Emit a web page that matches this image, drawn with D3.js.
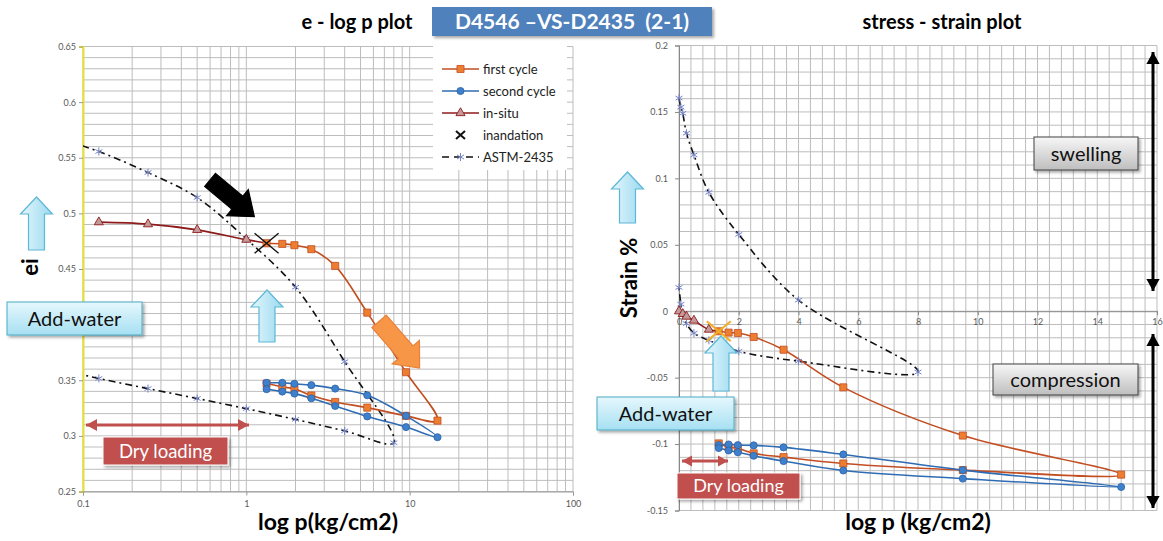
<!DOCTYPE html>
<html>
<head>
<meta charset="utf-8">
<script src="https://cdn.jsdelivr.net/npm/d3@7"></script>
<style>
  body { margin: 0; background: #fff; }
  svg { display: block; font-family: Lato, "Open Sans", sans-serif; }
</style>
</head>
<body>
<svg id="chart" width="1163" height="541"></svg>
<script>
// ---------- data ----------
// pressure steps (kg/cm2)
const pLoad = [1.33, 1.66, 1.97, 2.5, 3.5, 5.5, 9.5, 14.8];
const pUnload = [9.5, 5.5, 3.5, 2.5, 1.97, 1.66, 1.33];

// e - log p plot
const pInsitu = [0.125, 0.25, 0.5, 1];
const eInsitu = [0.4921, 0.4903, 0.4852, 0.4764];
const pInund = 1.33;
const eInund = 0.4732;
const eFirstLoad = [0.4732, 0.4726, 0.4714, 0.4678, 0.4528, 0.4108, 0.3572, 0.3137];
const eFirstUnload = [0.318, 0.3254, 0.3305, 0.3363, 0.3423, 0.344, 0.347];
const eSecondLoad = [0.3477, 0.3477, 0.3468, 0.3456, 0.3425, 0.3365, 0.318, 0.2988];
const eSecondUnload = [0.3079, 0.3175, 0.3269, 0.3338, 0.338, 0.3398, 0.342];
const pAstmLoad = [0.0625, 0.125, 0.25, 0.5, 1, 2, 4, 8];
const eAstmLoad = [0.57, 0.5556, 0.5367, 0.5142, 0.477, 0.4336, 0.3667, 0.2938];
const pAstmUnload = [4, 2, 1, 0.5, 0.25, 0.125, 0.0625];
const eAstmUnload = [0.3045, 0.3148, 0.3245, 0.3336, 0.3425, 0.3516, 0.362];

// stress - strain plot
const pInsituS = [0, 0.125, 0.25, 0.5, 1];
const sInsitu = [0, -0.002, -0.004, -0.007, -0.0138];
const sInund = -0.0151;
const sFirstLoad = [-0.0151, -0.0161, -0.0164, -0.0194, -0.029, -0.0573, -0.0936, -0.123];
const sFirstUnload = [-0.1196, -0.1146, -0.1098, -0.107, -0.1032, -0.1022, -0.0995];
const sSecondLoad = [-0.1008, -0.1003, -0.1008, -0.101, -0.1025, -0.1078, -0.1196, -0.1323];
const sSecondUnload = [-0.126, -0.1199, -0.1128, -0.1088, -0.1062, -0.1048, -0.103];
const pAstmLoadS = [0, 0.0625, 0.125, 0.25, 0.5, 1, 2, 4, 8];
const sAstmLoad = [0.1604, 0.1536, 0.149, 0.134, 0.1176, 0.0895, 0.0578, 0.0083, -0.0458];
const pAstmUnloadS = [4, 2, 1, 0.5, 0.25, 0.125, 0.0625, 0];
const sAstmUnload = [-0.0376, -0.0302, -0.0219, -0.0165, -0.0093, -0.0025, 0.0053, 0.0179];

// tick labels (0.4 is hidden behind the Add-water box in the original)
const eTicks = [0.25, 0.3, 0.35, 0.4, 0.45, 0.5, 0.55, 0.6, 0.65];
const eTicksHidden = [0.4];
const logTicks = [0.1, 1, 10, 100];
const sTicks = [-0.15, -0.1, -0.05, 0, 0.05, 0.1, 0.15, 0.2];
const xTicksS = [0, 2, 4, 6, 8, 10, 12, 14, 16];

const legendNames = ["first cycle", "second cycle", "in-situ", "inandation", "ASTM-2435"];

// ---------- colours ----------
const cFirst = "#C24E22", cFirstFill = "#ED7D31";
const cSecond = "#2F6CB3", cSecondFill = "#3F80CC";
const cInsitu = "#8E1B1B", cInsituFill = "#C39A9A";
const cAstm = "#7584C6";
const grid = "#bdbdbd";

const zip = (xs, ys) => xs.map((x, i) => [x, ys[i]]);

const svg = d3.select("#chart");
const defs = svg.append("defs");

// shadow + gradients for the callout boxes
const sh = defs.append("filter").attr("id", "shadow").attr("x", "-20%").attr("y", "-30%").attr("width", "150%").attr("height", "170%");
sh.append("feDropShadow").attr("dx", 2).attr("dy", 2).attr("stdDeviation", 1.6).attr("flood-color", "#000").attr("flood-opacity", 0.35);

function vGrad(id, c1, c2) {
  const g = defs.append("linearGradient").attr("id", id).attr("x1", 0).attr("y1", 0).attr("x2", 0).attr("y2", 1);
  g.append("stop").attr("offset", "0%").attr("stop-color", c1);
  g.append("stop").attr("offset", "100%").attr("stop-color", c2);
}
vGrad("gBlue", "#E6F7FD", "#A6E0F2");
vGrad("gGray", "#F7F7F7", "#BEBEBE");
vGrad("gArrow", "#E4F6FC", "#9ADAF0");

// ---------- helpers ----------
function blockArrow(g, x1, y1, x2, y2, shaft, headW, headL, fill, stroke) {
  const len = Math.hypot(x2 - x1, y2 - y1);
  const ang = Math.atan2(y2 - y1, x2 - x1) * 180 / Math.PI;
  const pts = [[0, -shaft / 2], [len - headL, -shaft / 2], [len - headL, -headW / 2], [len, 0],
               [len - headL, headW / 2], [len - headL, shaft / 2], [0, shaft / 2]];
  g.append("polygon")
    .attr("points", pts.map(p => p.join(",")).join(" "))
    .attr("transform", `translate(${x1},${y1}) rotate(${ang})`)
    .attr("fill", fill).attr("stroke", stroke).attr("stroke-width", 1.2);
}

function lineArrow(g, x1, y1, x2, y2, color, w, head) {
  g.append("line").attr("x1", x1).attr("y1", y1).attr("x2", x2).attr("y2", y2)
    .attr("stroke", color).attr("stroke-width", w);
  const ang = Math.atan2(y2 - y1, x2 - x1) * 180 / Math.PI;
  [[x2, y2, ang], [x1, y1, ang + 180]].forEach(([x, y, a]) => {
    g.append("polygon").attr("points", `0,0 ${-head},${-head * 0.55} ${-head},${head * 0.55}`)
      .attr("transform", `translate(${x},${y}) rotate(${a})`).attr("fill", color);
  });
}

function callout(g, x, y, w, h, text, fill, stroke, color, size) {
  g.append("rect").attr("x", x).attr("y", y).attr("width", w).attr("height", h)
    .attr("fill", fill).attr("stroke", stroke).attr("stroke-width", 1).attr("filter", "url(#shadow)");
  g.append("text").attr("x", x + w / 2).attr("y", y + h / 2 + size * 0.36)
    .attr("text-anchor", "middle").attr("font-size", size).attr("fill", color).text(text);
}

function bigX(g, x, y, color, w) {
  g.append("path").attr("d", `M${x - 12},${y - 10}L${x + 12},${y + 10}M${x - 12},${y + 10}L${x + 12},${y - 10}`)
    .attr("stroke", color).attr("stroke-width", w).attr("fill", "none");
}

function drawSeries(g, x, y, pts, color, width, dash) {
  g.append("path").datum(pts)
    .attr("d", d3.line().x(d => x(d[0])).y(d => y(d[1])).curve(d3.curveCatmullRom.alpha(0.5)))
    .attr("fill", "none").attr("stroke", color).attr("stroke-width", width)
    .attr("stroke-dasharray", dash || null);
}

function markers(g, x, y, pts, kind) {
  const sel = g.append("g").selectAll("path").data(pts).join("path")
    .attr("transform", d => `translate(${x(d[0])},${y(d[1])})`);
  if (kind === "square") sel.attr("d", d3.symbol(d3.symbolSquare, 50)()).attr("fill", cFirstFill).attr("stroke", cFirst).attr("stroke-width", 0.8);
  if (kind === "circle") sel.attr("d", d3.symbol(d3.symbolCircle, 40)()).attr("fill", cSecondFill).attr("stroke", "#2A62A6").attr("stroke-width", 0.8);
  if (kind === "triangle") sel.attr("d", d3.symbol(d3.symbolTriangle, 36)()).attr("fill", cInsituFill).attr("stroke", cInsitu).attr("stroke-width", 0.9);
  if (kind === "star") sel.attr("d", d3.symbol(d3.symbolAsterisk, 45)()).attr("fill", "none").attr("stroke", cAstm).attr("stroke-width", 1);
}

// ================= LEFT : e - log p =================
const xL = d3.scaleLog().domain([0.1, 100]).range([83, 573]);
const yL = d3.scaleLinear().domain([0.25, 0.65]).range([491.5, 46.5]);
const gL = svg.append("g");

defs.append("clipPath").attr("id", "clipL").append("rect")
  .attr("x", 83).attr("y", 46.5).attr("width", 490).attr("height", 445);

// grid
const hLinesL = d3.range(25, 66).map(v => v / 100);
gL.append("g").selectAll("line").data(hLinesL).join("line")
  .attr("x1", 83).attr("x2", 573).attr("y1", d => yL(d)).attr("y2", d => yL(d))
  .attr("stroke", grid).attr("stroke-width", 1);
const vLinesL = [];
[0.1, 1, 10].forEach(dec => d3.range(1, 10).forEach(k => vLinesL.push(dec * k)));
vLinesL.push(100);
gL.append("g").selectAll("line").data(vLinesL).join("line")
  .attr("x1", d => xL(d)).attr("x2", d => xL(d)).attr("y1", 46.5).attr("y2", 491.5)
  .attr("stroke", grid).attr("stroke-width", 1);

// axes
const axL = gL.append("g").attr("transform", "translate(83,0)")
  .call(d3.axisLeft(yL).tickValues(eTicks).tickSize(4)
    .tickFormat(d => eTicksHidden.includes(d) ? "" : String(+d.toFixed(2))));
axL.select(".domain").attr("stroke", "#E6E030").attr("stroke-width", 2);
axL.selectAll(".tick line").attr("stroke", "#999");
axL.selectAll("text").attr("font-size", 9).attr("fill", "#595959").attr("font-family", "Lato, sans-serif");

const axLx = gL.append("g").attr("transform", "translate(0,491.5)")
  .call(d3.axisBottom(xL).tickValues(logTicks).tickSize(4).tickFormat(d => String(d)));
axLx.select(".domain").attr("stroke", "#999");
axLx.selectAll(".tick line").attr("stroke", "#999");
axLx.selectAll("text").attr("font-size", 9).attr("fill", "#595959").attr("font-family", "Lato, sans-serif").attr("dy", "0.9em");

// series
const dL = gL.append("g").attr("clip-path", "url(#clipL)");
drawSeries(dL, xL, yL, zip(pAstmLoad, eAstmLoad).concat(zip(pAstmUnload, eAstmUnload)), "#111", 1.6, "7,4,2,4");
drawSeries(dL, xL, yL, zip(pInsitu, eInsitu).concat([[pInund, eInund]]), cInsitu, 1.6);
drawSeries(dL, xL, yL, zip(pLoad, eFirstLoad).concat(zip(pUnload, eFirstUnload)), cFirst, 1.6);
drawSeries(dL, xL, yL, zip(pLoad, eSecondLoad).concat(zip(pUnload, eSecondUnload)), cSecond, 1.6);
markers(dL, xL, yL, zip(pAstmLoad, eAstmLoad).concat(zip(pAstmUnload, eAstmUnload)), "star");
markers(dL, xL, yL, zip(pInsitu, eInsitu), "triangle");
markers(dL, xL, yL, zip(pLoad, eFirstLoad).concat(zip(pUnload, eFirstUnload)), "square");
markers(dL, xL, yL, zip(pLoad, eSecondLoad).concat(zip(pUnload, eSecondUnload)), "circle");
bigX(gL, xL(pInund), yL(eInund), "#111", 1.4);

// legend
const lg = gL.append("g");
lg.append("rect").attr("x", 433).attr("y", 46).attr("width", 134).attr("height", 124).attr("fill", "#fff");
legendNames.forEach((name, i) => {
  const y = 69 + i * 22;
  const row = lg.append("g");
  if (i === 0 || i === 1 || i === 2) {
    row.append("line").attr("x1", 442).attr("x2", 479).attr("y1", y).attr("y2", y)
      .attr("stroke", [cFirst, cSecond, cInsitu][i]).attr("stroke-width", 1.6);
  }
  if (i === 4) {
    row.append("line").attr("x1", 442).attr("x2", 479).attr("y1", y).attr("y2", y)
      .attr("stroke", "#111").attr("stroke-width", 1.6).attr("stroke-dasharray", "7,5");
  }
  const kinds = ["square", "circle", "triangle", null, "star"];
  if (kinds[i]) markers(row, () => 460.5, () => y, [[0, 0]], kinds[i]);
  if (i === 3) row.append("path").attr("d", `M456,${y - 4}L465,${y + 4}M456,${y + 4}L465,${y - 4}`).attr("stroke", "#111").attr("stroke-width", 2);
  row.append("text").attr("x", 483).attr("y", y + 4.5).attr("font-size", 13).attr("fill", "#222").text(name);
});

// titles
gL.append("text").attr("x", 357).attr("y", 29).attr("text-anchor", "middle").attr("font-size", 20).attr("font-weight", "bold").text("e - log p plot");
gL.append("text").attr("x", 328).attr("y", 530).attr("text-anchor", "middle").attr("font-size", 23).attr("font-weight", "bold").text("log p(kg/cm2)");
gL.append("text").attr("transform", "translate(38,267) rotate(-90)").attr("text-anchor", "middle").attr("font-size", 22).attr("font-weight", "bold").text("ei");

// annotations
const aL = gL.append("g");
blockArrow(aL, xL(0.6), yL(0.53), xL(1.12), yL(0.497), 17, 34, 22, "#000", "#000");
blockArrow(aL, xL(6.5), yL(0.403), xL(11.5), yL(0.361), 19, 36, 21, "#F79646", "#E8823A");
blockArrow(aL, 36.5, 250, 36.5, 197, 16, 32, 17, "url(#gArrow)", "#5DB7D5");
blockArrow(aL, 267, 342, 267, 290, 16, 32, 17, "url(#gArrow)", "#5DB7D5");
callout(aL, 7, 302, 135, 33, "Add-water", "url(#gBlue)", "#4BACC6", "#111", 20);
lineArrow(aL, 86, 425, 249, 425, "#C0504D", 3, 11);
callout(aL, 103, 437, 125, 28, "Dry loading", "#C0504D", "#fff", "#fff", 18.5);

// ================= RIGHT : stress - strain =================
const xR = d3.scaleLinear().domain([0, 16]).range([679, 1157]);
const yR = d3.scaleLinear().domain([-0.15, 0.2]).range([510.5, 45.5]);
const gR = svg.append("g");

const hLinesR = d3.range(-15, 21).map(v => v / 100);
gR.append("g").selectAll("line").data(hLinesR).join("line")
  .attr("x1", 679).attr("x2", 1157).attr("y1", d => yR(d)).attr("y2", d => yR(d))
  .attr("stroke", grid).attr("stroke-width", 1);
const vLinesR = d3.range(0, 41).map(v => v * 0.4);
gR.append("g").selectAll("line").data(vLinesR).join("line")
  .attr("x1", d => xR(d)).attr("x2", d => xR(d)).attr("y1", 45.5).attr("y2", 510.5)
  .attr("stroke", grid).attr("stroke-width", 1);

const axR = gR.append("g").attr("transform", "translate(679,0)")
  .call(d3.axisLeft(yR).tickValues(sTicks).tickSize(4).tickFormat(d => String(+d.toFixed(2))));
axR.select(".domain").attr("stroke", "#888");
axR.selectAll(".tick line").attr("stroke", "#888");
axR.selectAll("text").attr("font-size", 9).attr("fill", "#595959").attr("font-family", "Lato, sans-serif").attr("dx", "-4");

const axRx = gR.append("g").attr("transform", `translate(0,${yR(0)})`)
  .call(d3.axisBottom(xR).tickValues(xTicksS).tickSize(4));
axRx.select(".domain").attr("stroke", "#888");
axRx.selectAll(".tick line").attr("stroke", "#888");
axRx.selectAll("text").attr("font-size", 9).attr("fill", "#595959").attr("font-family", "Lato, sans-serif");

const dR = gR.append("g");
drawSeries(dR, xR, yR, zip(pAstmLoadS, sAstmLoad).concat(zip(pAstmUnloadS, sAstmUnload)), "#111", 1.6, "7,4,2,4");
drawSeries(dR, xR, yR, zip(pInsituS, sInsitu).concat([[pInund, sInund]]), cInsitu, 1.6);
drawSeries(dR, xR, yR, zip(pLoad, sFirstLoad).concat(zip(pUnload, sFirstUnload)), cFirst, 1.6);
drawSeries(dR, xR, yR, zip(pLoad, sSecondLoad).concat(zip(pUnload, sSecondUnload)), cSecond, 1.6);
markers(dR, xR, yR, zip(pAstmLoadS, sAstmLoad).concat(zip(pAstmUnloadS, sAstmUnload)), "star");
markers(dR, xR, yR, zip(pInsituS, sInsitu), "triangle");
markers(dR, xR, yR, zip(pLoad, sFirstLoad).concat(zip(pUnload, sFirstUnload)), "square");
markers(dR, xR, yR, zip(pLoad, sSecondLoad).concat(zip(pUnload, sSecondUnload)), "circle");
bigX(gR, xR(pInund), yR(sInund), "#F2AE22", 2);

gR.append("text").attr("x", 942).attr("y", 29).attr("text-anchor", "middle").attr("font-size", 20).attr("font-weight", "bold").text("stress - strain plot");
gR.append("text").attr("x", 918).attr("y", 530).attr("text-anchor", "middle").attr("font-size", 23).attr("font-weight", "bold").text("log p (kg/cm2)");
gR.append("text").attr("transform", "translate(637,278) rotate(-90)").attr("text-anchor", "middle").attr("font-size", 22).attr("font-weight", "bold").text("Strain %");

const aR = gR.append("g");
blockArrow(aR, 627.5, 223, 627.5, 172, 16, 32, 17, "url(#gArrow)", "#5DB7D5");
blockArrow(aR, 721, 391, 721, 336, 16, 32, 17, "url(#gArrow)", "#5DB7D5");
callout(aR, 597, 397, 137, 33, "Add-water", "url(#gBlue)", "#4BACC6", "#111", 20);
lineArrow(aR, 682, 461, 728, 461, "#C0504D", 3, 10);
callout(aR, 677, 473, 123, 26, "Dry loading", "#C0504D", "#fff", "#fff", 18);
callout(aR, 1034, 137, 104, 33, "swelling", "url(#gGray)", "#404040", "#111", 20);
callout(aR, 993, 364, 145, 31, "compression", "url(#gGray)", "#404040", "#111", 20);
lineArrow(aR, 1153, 52, 1153, 291, "#000", 3, 12);
lineArrow(aR, 1153, 334, 1153, 508, "#000", 3, 12);

// ================= title box =================
const tb = svg.append("g");
tb.append("rect").attr("x", 432).attr("y", 7).attr("width", 280).attr("height", 29)
  .attr("fill", "#4F81BD").attr("filter", "url(#shadow)");
tb.append("text").attr("x", 572).attr("y", 29).attr("text-anchor", "middle")
  .style("white-space", "pre")
  .attr("font-size", 21).attr("font-weight", "bold").attr("fill", "#fff").text("D4546 \u2013VS-D2435  (2-1)");
</script>
</body>
</html>
